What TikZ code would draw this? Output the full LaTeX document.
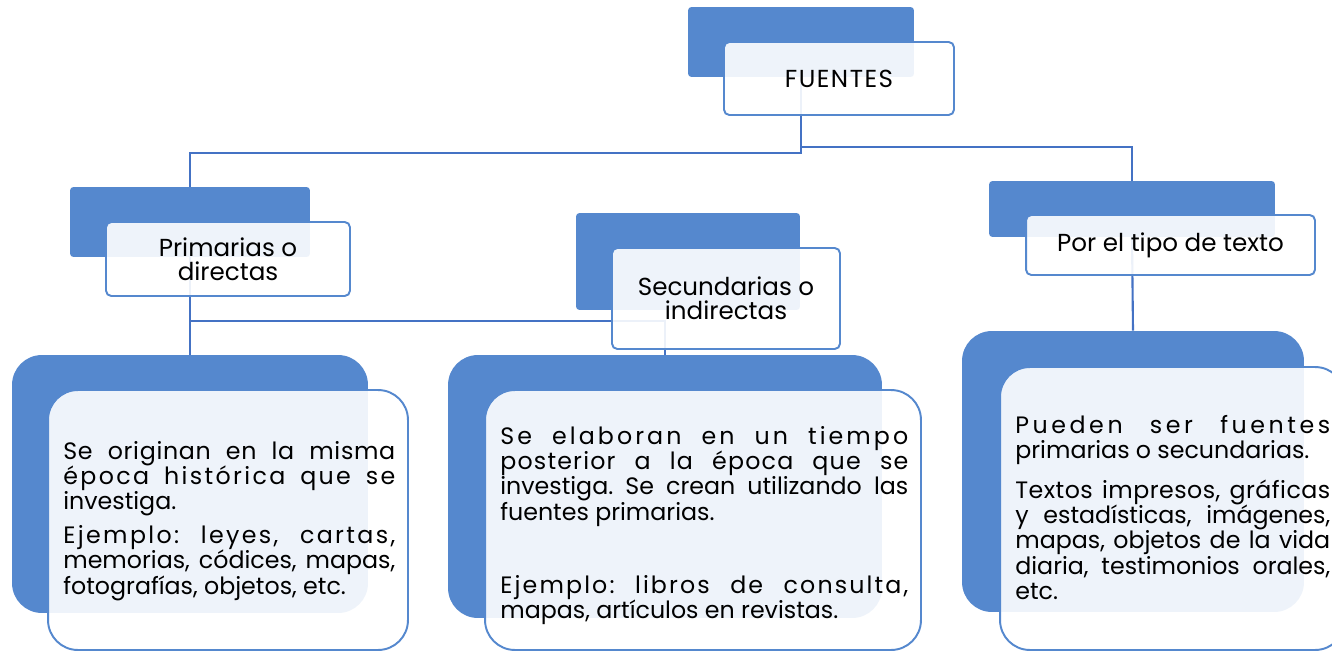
\documentclass[tikz,border=0pt]{standalone}
\usepackage{fontspec}
\setmainfont{Poppins}
\usetikzlibrary{positioning}
\pgfdeclarelayer{background}
\pgfsetlayers{background,main}
\definecolor{boxblue}{RGB}{85,136,206}
\definecolor{lineblue}{RGB}{68,114,196}
\newcommand\letsp[2]{{\addfontfeature{LetterSpace=#1}#2}}
\frenchspacing

\begin{document}
\begin{tikzpicture}[x=0.02cm,y=-0.02cm,
  back/.style={fill=boxblue,rounded corners=2pt,inner sep=0pt},
  front/.style={draw=boxblue,line width=1.1pt,fill=white,fill opacity=0.9,text opacity=1,
    rounded corners=3pt,inner sep=0pt,align=center,font=\fontsize{14}{13.8}\selectfont},
  bigback/.style={back,rounded corners=17pt},
  bigfront/.style={front,rounded corners=17pt},
  body/.style={anchor=base west,inner sep=0pt,align=justify,font=\fontsize{13.5}{14.5}\selectfont},
  link/.style={draw=lineblue,line width=1.2pt}]
\useasboundingbox (0,0) rectangle (1332,652);

% top
\node[back,minimum width=4.52cm,minimum height=1.4cm] (srcback) at (801,42) {};
\node[front,minimum width=4.6cm,minimum height=1.46cm] (src) at (839,78.5) {\letsp{6}{FUENTES}};

% second row
\node[back,minimum width=4.8cm,minimum height=1.4cm] (primback) at (190,222) {};
\node[front,minimum width=4.88cm,minimum height=1.48cm] (prim) at (228,259) {Primarias o\\directas};
\node[back,minimum width=4.48cm,minimum height=1.94cm] (secback) at (688,261.5) {};
\node[front,minimum width=4.56cm,minimum height=2.02cm] (sec) at (726,298.5) {Secundarias o\\indirectas};
\node[back,minimum width=5.72cm,minimum height=1.12cm] (typeback) at (1132,209) {};
\node[front,minimum width=5.78cm,minimum height=1.2cm] (type) at (1170.5,245) {Por el tipo de texto};

% third row
\node[bigback,minimum width=7.12cm,minimum height=5.16cm] (primbigback) at (190,484) {};
\node[bigfront,minimum width=7.2cm,minimum height=5.2cm] (primbig) at (228,520) {};
\node[bigback,minimum width=8.68cm,minimum height=5.26cm] (secbigback) at (665,486.5) {};
\node[bigfront,minimum width=8.72cm,minimum height=5.2cm] (secbig) at (703,520) {};
\node[bigback,minimum width=6.84cm,minimum height=5.62cm] (typebigback) at (1133,471.5) {};
\node[bigfront,minimum width=6.9cm,minimum height=5.66cm] (typebig) at (1172.5,508.5) {};

\node[body,text width=6.64cm] (primtext) at (63,459) {\letsp{3}{Se originan en la misma}\linebreak
  \letsp{10}{época histórica que se}\linebreak investiga.\par\vspace{4.5pt}
  \letsp{10}{Ejemplo: leyes, cartas,}\linebreak memorias, códices, mapas,\linebreak fotografías, objetos, etc.};
\node[body,text width=8.16cm] (sectext) at (500,444) {\letsp{13}{Se elaboran en un tiempo}\linebreak
  \letsp{5}{posterior a la época que se}\linebreak investiga. Se crean utilizando las\linebreak
  fuentes primarias.\par\vspace{27pt}
  \letsp{9}{Ejemplo: libros de consulta,}\linebreak mapas, artículos en revistas.};
\node[body,text width=6.3cm] (typetext) at (1015,433) {\letsp{15}{Pueden ser fuentes}\linebreak
  primarias o secundarias.\par\vspace{8pt}
  \letsp{2}{Textos impresos, gráficas}\linebreak y estadísticas, imágenes,\linebreak
  mapas, objetos de la vida\linebreak diaria, testimonios orales,\linebreak etc.};

% connectors
\begin{pgfonlayer}{background}
\coordinate (srcl) at (801,153);
\coordinate (srcr) at (801,147);
\coordinate (primj) at (190,321);
\draw[link] (srcback.south) -- (srcl) -| (primback.north);
\draw[link] (srcback.south) -- (srcr) -| (typeback.north);
\draw[link] (primback.south) -- (primbigback.north);
\draw[link] (primj) -| (secbigback.north);
\draw[link] (typeback.south) -- (typebigback.north);
\end{pgfonlayer}
\end{tikzpicture}
\end{document}
